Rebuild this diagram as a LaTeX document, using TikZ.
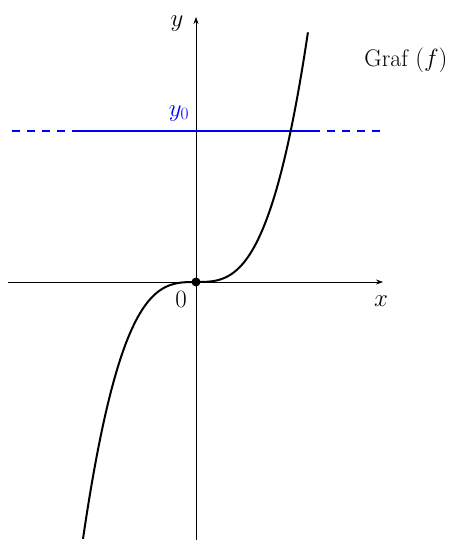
\documentclass[tikz,border=0pt]{standalone}
\usetikzlibrary{arrows.meta}
\begin{document}
\begin{tikzpicture}[x=1pt,y=-1pt,
  axis/.style={line width=0.6pt,-{Stealth[length=7pt,width=5pt]}},
  lbl/.style={font=\fontsize{24}{28}\selectfont, inner sep=1pt},
  biglbl/.style={font=\fontsize{24}{28}\selectfont, inner sep=1pt},
  curve/.style={line width=2pt},
  blueline/.style={blue,line width=2.6pt},
  bluedash/.style={blue,line width=2.6pt,dash pattern=on 8pt off 7pt}]
\useasboundingbox (0,0) rectangle (459,542);
\coordinate (O) at (196,282);
\coordinate (xs) at (8,282);
\coordinate (xe) at (383,282);
\coordinate (ys) at (196,540);
\coordinate (ye) at (196,17);
\draw[axis] (xs) -- (xe);
\draw[axis] (ys) -- (ye);
\coordinate (bl) at (12,131);
\coordinate (b1) at (77,131);
\coordinate (b2) at (312,131);
\coordinate (br) at (380,131);
\draw[bluedash] (bl) -- (b1);
\draw[blueline] (b1) -- (b2);
\draw[bluedash] (b2) -- (br);
\draw[curve,domain=-1.13:1.12,samples=80,smooth] plot ({196+100*\x},{282-178*\x*\x*\x});
\fill (O) circle (4.5pt);
\node[lbl,anchor=base] (y0) at (179,116) {\color{blue}$y_0$};
\node[lbl,anchor=base] (xl) at (381,306) {$x$};
\node[lbl,anchor=base] (yl) at (177,26) {$y$};
\node[lbl,anchor=base] (zero) at (181,307) {$0$};
\node[biglbl,anchor=base] (graf) at (406,66) {Graf $(f)$};
\end{tikzpicture}
\end{document}
